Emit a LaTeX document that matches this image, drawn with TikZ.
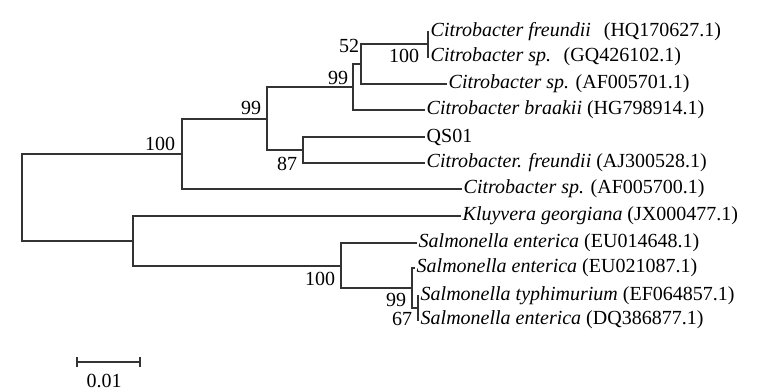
\documentclass[tikz,border=0pt]{standalone}
\usepackage{fontspec}
\setmainfont{Liberation Serif}
\usetikzlibrary{calc}

\begin{document}
\begin{tikzpicture}[x=1pt,y=-1pt,
	branch/.style={draw=black!80,line width=1.3pt},
	taxon/.style={anchor=west,inner sep=1.5pt,font=\fontsize{20}{22}\selectfont},
	boot/.style={inner sep=0pt,font=\fontsize{20}{22}\selectfont}]
	\useasboundingbox (0,0) rectangle (759,391);
	% inner nodes
	\foreach \n/\x/\y in {root/22/197,cit/182/154,c99a/267/119,c99b/353/87,c52/361/64,c100/428/44,
		c87/303/150,klu/133/241,sal/341/266,s99/412/288,s67/418/308}
		\coordinate (\n) at (\x,\y);
	% taxa
	\foreach \n/\x/\y/\t in {
		t1/429/32/{\textit{Citrobacter freundii}\hspace{8pt} (HQ170627.1)},
		t2/429/57/{\textit{Citrobacter sp.}\hspace{6pt} (GQ426102.1)},
		t3/447/84/{\textit{Citrobacter sp.} (AF005701.1)},
		t4/425/110/{\textit{Citrobacter braakii} (HG798914.1)},
		t5/425/137/{QS01},
		t6/425/163/{\textit{Citrobacter. freundii} (AJ300528.1)},
		t7/462/189/{\textit{Citrobacter sp.} (AF005700.1)},
		t8/461/216/{\textit{Kluyvera georgiana} (JX000477.1)},
		t9/417/243/{\textit{Salmonella enterica} (EU014648.1)},
		t10/415/268/{\textit{Salmonella enterica} (EU021087.1)},
		t11/419/296/{\textit{Salmonella typhimurium} (EF064857.1)},
		t12/419/320/{\textit{Salmonella enterica} (DQ386877.1)}}
		\node[taxon] (\n) at (\x,\y) {\t};
	% branches
	\foreach \a/\b in {root/cit,root/klu,cit/c99a,cit/t7,c99a/c99b,c99a/c87,c99b/c52,c99b/t4,
		c52/c100,c52/t3,c100/t1,c100/t2,c87/t5,c87/t6,klu/t8,klu/sal,sal/t9,sal/s99,
		s99/t10,s99/s67,s67/t11,s67/t12}
		\draw[branch] (\a) |- (\b);
	% bootstrap values
	\foreach \n/\x/\y/\v in {b1/349/46/52,b2/338/78/99,b3/251/108/99,b4/160/144/100,b5/287/164/87,
		b6/404/56/100,b7/320/279/100,b8/396/300/99,b9/402/319/67}
		\node[boot] (\n) at (\x,\y) {\v};
	% scale bar
	\coordinate (sbl) at (77,362);
	\coordinate (sbr) at (140,362);
	\draw[branch] (sbl) -- (sbr);
	\draw[branch] ($(sbl)+(0,-5)$) -- ($(sbl)+(0,5)$);
	\draw[branch] ($(sbr)+(0,-5)$) -- ($(sbr)+(0,5)$);
	\node[boot] (sbt) at (104,381) {0.01};
\end{tikzpicture}
\end{document}
